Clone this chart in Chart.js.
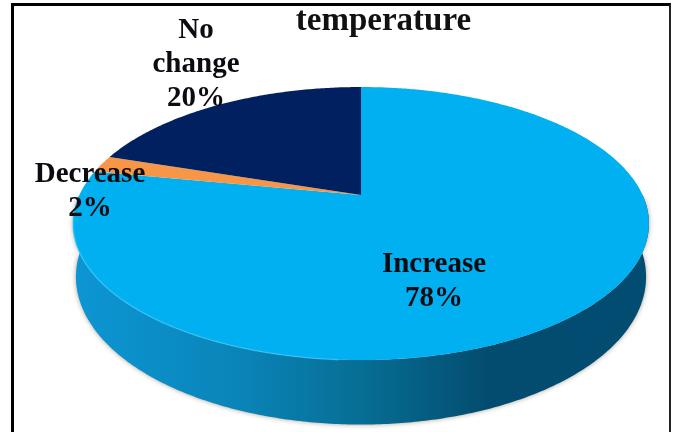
<!DOCTYPE html>
<html>
<head>
<meta charset="utf-8">
<title>temperature</title>
<script src="https://cdn.jsdelivr.net/npm/chart.js@4"></script>
<style>
  html, body { margin: 0; padding: 0; background: #fff; }
  #wrap { position: relative; width: 675px; height: 432px; overflow: hidden; }
  #chart { display: block; }
  /* open frame: the bottom edge runs off the page */
  #frame {
    position: absolute; left: 11px; top: 3px; width: 655px; height: 440px;
    border-left: 3px solid #000; border-top: 3px solid #000; border-right: 2px solid #222;
    pointer-events: none;
  }
</style>
</head>
<body>
<div id="wrap">
  <canvas id="chart" width="675" height="432"></canvas>
  <div id="frame"></div>
</div>
<script>
const chartTitle = 'temperature';
const categories = ['Increase', 'Decrease', 'No change'];
const values = [78, 2, 20];
const sliceColors = ['#00B0F0', '#F79646', '#002060'];

const FONT = '"Liberation Serif", "Times New Roman", serif';

// Tilted disc: unit circle (u, v) goes through a perspective divide
const disc = { cx: 361, cy: 195, a: 281.6, b: 89.8, k: 0.209, depth: 51, baseScale: 0.99 };

function topPoint(angle) {
  const u = Math.cos(angle), v = -Math.sin(angle);
  const w = 1 + disc.k * v;
  return [disc.cx + disc.a * u / w, (disc.cy - disc.b * v) / w];
}

function basePoint(angle) {
  const u = Math.cos(angle), v = -Math.sin(angle);
  const w = 1 + disc.k * v;
  return [
    disc.cx + disc.a * disc.baseScale * u / w,
    (disc.cy - disc.b * v) / w + disc.depth / w
  ];
}

function sampleArc(start, end, fn) {
  const steps = Math.max(2, Math.ceil((end - start) / 0.01));
  const pts = [];
  for (let i = 0; i <= steps; i++) {
    pts.push(fn(start + (end - start) * i / steps));
  }
  return pts;
}

function tracePath(ctx, pts) {
  ctx.beginPath();
  pts.forEach((p, i) => (i ? ctx.lineTo(p[0], p[1]) : ctx.moveTo(p[0], p[1])));
  ctx.closePath();
}

// Replaces the flat arcs, still using the angles the doughnut controller computed
const tiltedPie = {
  id: 'tiltedPie',
  beforeDatasetsDraw(chart) {
    const ctx = chart.ctx;
    const arcs = chart.getDatasetMeta(0).data;

    const side = ctx.createLinearGradient(73, 0, 650, 0);
    side.addColorStop(0, '#0C96D4');
    side.addColorStop(0.28, '#0A85B9');
    side.addColorStop(0.5, '#076E94');
    side.addColorStop(0.72, '#034C6F');
    side.addColorStop(1, '#024C72');

    // only the near half of the wall can show, so the shadow stays off the far edge
    ctx.save();
    ctx.fillStyle = side;
    ctx.shadowColor = 'rgba(70, 50, 20, 0.45)';
    ctx.shadowBlur = 5;
    arcs.forEach(arc => {
      const start = Math.max(arc.startAngle, 0);
      const end = Math.min(arc.endAngle, Math.PI);
      if (end <= start) return;
      const top = sampleArc(start, end, topPoint);
      const base = sampleArc(start, end, basePoint).reverse();
      tracePath(ctx, top.concat(base));
      ctx.fill();
    });
    ctx.restore();

    arcs.forEach((arc, i) => {
      const rim = sampleArc(arc.startAngle, arc.endAngle, topPoint);
      tracePath(ctx, [[disc.cx, disc.cy]].concat(rim));
      ctx.fillStyle = sliceColors[i];
      ctx.fill();
    });

    // faint highlight along the front edge
    const edge = sampleArc(Math.PI * 0.52, Math.PI * 0.96, topPoint);
    ctx.save();
    ctx.beginPath();
    edge.forEach((p, i) => (i ? ctx.lineTo(p[0], p[1]) : ctx.moveTo(p[0], p[1])));
    ctx.strokeStyle = 'rgba(70, 205, 255, 0.55)';
    ctx.lineWidth = 1.5;
    ctx.stroke();
    ctx.restore();

    return false;
  }
};

// name and percentage, broken over lines like the slice captions
const captionSpots = [
  { x: 434, y: 272, lines: ['Increase'] },
  { x: 90, y: 182, lines: ['Decrease'] },
  { x: 196, y: 38, lines: ['No', 'change'] }
];

const sliceCaptions = {
  id: 'sliceCaptions',
  afterDraw(chart) {
    const ctx = chart.ctx;
    ctx.save();
    ctx.font = 'bold 29px ' + FONT;
    ctx.fillStyle = '#0b0b12';
    ctx.textAlign = 'center';
    ctx.textBaseline = 'alphabetic';
    captionSpots.forEach((spot, i) => {
      const lines = spot.lines.concat(values[i] + '%');
      lines.forEach((line, n) => ctx.fillText(line, spot.x, spot.y + n * 34));
    });
    ctx.restore();
  }
};

new Chart(document.getElementById('chart'), {
  type: 'pie',
  data: {
    labels: categories,
    datasets: [{ data: values, backgroundColor: sliceColors, borderWidth: 0 }]
  },
  options: {
    responsive: false,
    animation: false,
    layout: { padding: { left: 92, top: 5 } },
    plugins: {
      legend: { display: false },
      tooltip: { enabled: false },
      title: {
        display: true,
        text: chartTitle,
        color: '#111',
        font: { family: FONT, size: 33, weight: 'bold', lineHeight: 1 },
        padding: 0
      }
    }
  },
  plugins: [tiltedPie, sliceCaptions]
});
</script>
</body>
</html>
